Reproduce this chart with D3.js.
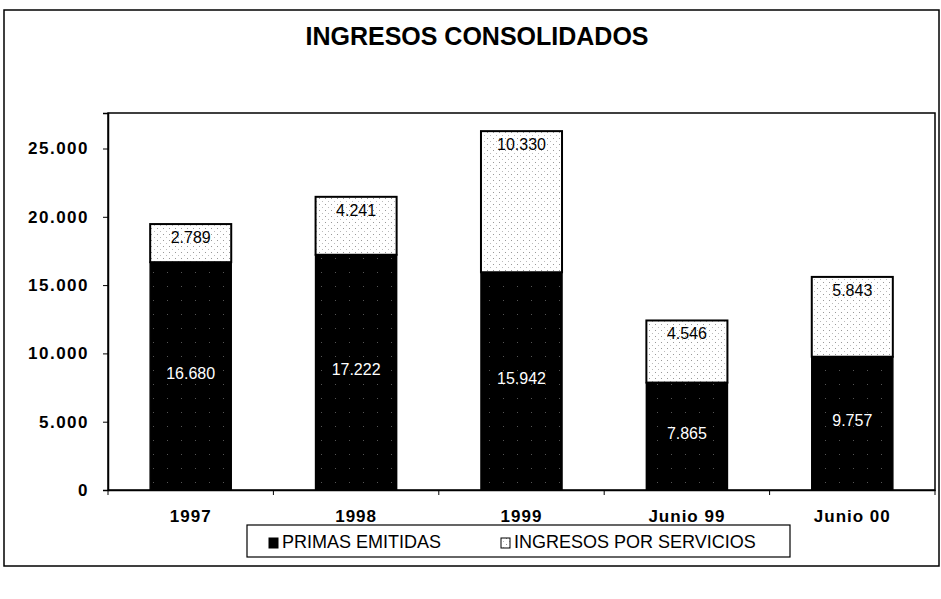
<!DOCTYPE html>
<html>
<head>
<meta charset="utf-8">
<script src="https://cdn.jsdelivr.net/npm/d3@7"></script>
<style>
  body { margin: 0; background: #fff; }
  text { font-family: Arial, "Liberation Sans", sans-serif; }
</style>
</head>
<body>
<div class="content"></div>
<script>
var categories = ['1997', '1998', '1999', 'Junio 99', 'Junio 00'];
var primas = [16680, 17222, 15942, 7865, 9757];
var servicios = [2789, 4241, 10330, 4546, 5843];
var yTicks = [0, 5000, 10000, 15000, 20000, 25000];
var seriesNames = ['PRIMAS EMITIDAS', 'INGRESOS POR SERVICIOS'];

var data = categories.map(function (c, i) {
  return { name: c, primas: primas[i], servicios: servicios[i] };
});

var es = d3.formatLocale({ decimal: ',', thousands: '.', grouping: [3], currency: ['', ''] });
var fmt = es.format(',d');

var svgWidth = 941, svgHeight = 599;
var svg = d3.select('.content')
  .append('svg')
  .attr('width', svgWidth)
  .attr('height', svgHeight);

// stipple patterns to imitate the scanned fills
var defs = svg.append('defs');
var light = defs.append('pattern')
  .attr('id', 'lightDots')
  .attr('width', 6).attr('height', 6)
  .attr('patternUnits', 'userSpaceOnUse');
light.append('rect').attr('width', 6).attr('height', 6).attr('fill', '#fff');
light.append('rect').attr('x', 1).attr('y', 1).attr('width', 1).attr('height', 1).attr('fill', '#999');
light.append('rect').attr('x', 4).attr('y', 4).attr('width', 1).attr('height', 1).attr('fill', '#bbb');

var dark = defs.append('pattern')
  .attr('id', 'darkDots')
  .attr('width', 14).attr('height', 14)
  .attr('patternUnits', 'userSpaceOnUse');
dark.append('rect').attr('width', 14).attr('height', 14).attr('fill', '#000');
dark.append('rect').attr('x', 3).attr('y', 5).attr('width', 1).attr('height', 1).attr('fill', '#555');

// outer frame
svg.append('rect')
  .attr('x', 4).attr('y', 10)
  .attr('width', 935).attr('height', 556)
  .attr('fill', 'none')
  .attr('stroke', '#000')
  .attr('stroke-width', 1.5);

svg.append('text')
  .attr('x', 477).attr('y', 45)
  .attr('text-anchor', 'middle')
  .attr('font-size', 25)
  .attr('font-weight', 'bold')
  .text('INGRESOS CONSOLIDADOS');

var margin = { left: 108, top: 113, right: 6, bottom: 109 },
  width = svgWidth - margin.left - margin.right,
  height = svgHeight - margin.top - margin.bottom;

var g = svg.append('g')
  .attr('transform', 'translate(' + margin.left + ',' + margin.top + ')');

var plotH = 377;

// plot area border
g.append('rect')
  .attr('width', width).attr('height', plotH)
  .attr('fill', 'none')
  .attr('stroke', '#000')
  .attr('stroke-width', 1.5);

var y = d3.scaleLinear().range([plotH, 0]).domain([0, 27600]);
var x = d3.scaleBand().range([0, width]).paddingInner(0.51).paddingOuter(0.255)
  .domain(categories);

var bars = g.selectAll('.bar')
  .data(data)
  .enter()
  .append('g')
  .attr('class', 'bar');

bars.append('rect')
  .attr('x', function (d) { return x(d.name); })
  .attr('y', function (d) { return y(d.primas); })
  .attr('width', x.bandwidth())
  .attr('height', function (d) { return plotH - y(d.primas); })
  .attr('fill', 'url(#darkDots)')
  .attr('stroke', '#000')
  .attr('stroke-width', 1.5);

bars.append('rect')
  .attr('x', function (d) { return x(d.name); })
  .attr('y', function (d) { return y(d.primas + d.servicios); })
  .attr('width', x.bandwidth())
  .attr('height', function (d) { return y(d.primas) - y(d.primas + d.servicios); })
  .attr('fill', 'url(#lightDots)')
  .attr('stroke', '#000')
  .attr('stroke-width', 2);

bars.append('text')
  .attr('x', function (d) { return x(d.name) + x.bandwidth() / 2; })
  .attr('y', function (d) { return (y(d.primas) + plotH) / 2 + 3; })
  .attr('text-anchor', 'middle')
  .attr('font-size', 16)
  .attr('fill', '#fff')
  .text(function (d) { return fmt(d.primas); });

bars.append('text')
  .attr('x', function (d) { return x(d.name) + x.bandwidth() / 2; })
  .attr('y', function (d) { return y(d.primas + d.servicios) + 19; })
  .attr('text-anchor', 'middle')
  .attr('font-size', 16)
  .attr('fill', '#000')
  .text(function (d) { return fmt(d.servicios); });

// y axis
var axis_y = g.append('g')
  .attr('class', 'axis axis--y')
  .call(d3.axisLeft(y).tickValues(yTicks).tickSize(5).tickPadding(14).tickFormat(fmt));
axis_y.selectAll('text')
  .attr('font-size', 17)
  .attr('font-weight', 'bold')
  .attr('letter-spacing', 1.5)
  .attr('fill', '#000')
  .style('font-family', 'Arial, "Liberation Sans", sans-serif');
axis_y.select('.domain').attr('stroke-width', 1.5);

// x axis
var axis_x = g.append('g')
  .attr('class', 'axis axis--x')
  .attr('transform', 'translate(0,' + plotH + ')')
  .call(d3.axisBottom(x).tickSize(0).tickPadding(20));
axis_x.selectAll('text')
  .attr('font-size', 17)
  .attr('font-weight', 'bold')
  .attr('letter-spacing', 1)
  .attr('fill', '#000')
  .style('font-family', 'Arial, "Liberation Sans", sans-serif');
axis_x.select('.domain').attr('stroke-width', 1.5);

// tick marks between categories
var step = x.step();
axis_x.selectAll('.sep')
  .data(d3.range(categories.length + 1))
  .enter()
  .append('line')
  .attr('x1', function (i) { return i * step; })
  .attr('x2', function (i) { return i * step; })
  .attr('y1', 0).attr('y2', 5)
  .attr('stroke', '#000');

// legend
var legend = svg.append('g').attr('transform', 'translate(247,525)');
legend.append('rect')
  .attr('width', 543).attr('height', 32)
  .attr('fill', '#fff')
  .attr('stroke', '#000')
  .attr('stroke-width', 1.2);

var fills = ['#000', 'url(#lightDots)'];
var offsets = [22, 254];
seriesNames.forEach(function (s, i) {
  legend.append('rect')
    .attr('x', offsets[i]).attr('y', 13)
    .attr('width', 9).attr('height', 10)
    .attr('fill', fills[i])
    .attr('stroke', '#000');
  legend.append('text')
    .attr('x', offsets[i] + 13).attr('y', 23)
    .attr('font-size', 18)
    .text(s);
});
</script>
</body>
</html>
